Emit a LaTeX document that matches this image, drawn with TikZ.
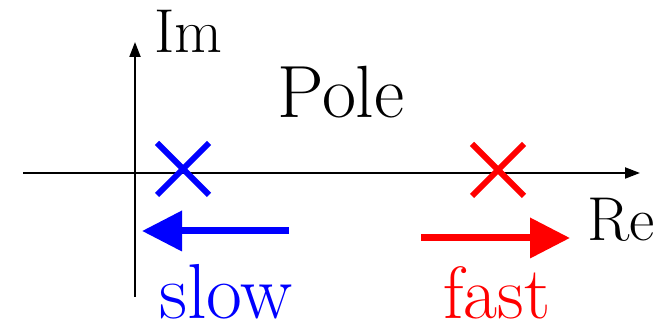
\documentclass[tikz,border=0pt]{standalone}
\usetikzlibrary{arrows.meta,positioning,calc}

\tikzset{
  axis/.style={line width=1pt,-{Triangle[length=7.5pt,width=5.5pt]}},
  polemark/.style={line width=3pt},
  move/.style={line width=3.5pt,-{Triangle[length=20pt,width=19.5pt]}},
  lbl/.style={inner sep=0pt,anchor=base west},
  small/.style={font=\fontsize{31}{31}\selectfont},
  large/.style={font=\fontsize{37}{37}\selectfont}
}

\begin{document}
\begin{tikzpicture}[x=0.5pt,y=0.5pt]
  \useasboundingbox (0,0) rectangle (670,325);
  % axes
  \coordinate (reL) at (23,152);
  \coordinate (reR) at (640,152);
  \coordinate (imB) at (135,28);
  \coordinate (imT) at (135,283);
  \draw[axis] (reL) -- (reR);
  \draw[axis] (imB) -- (imT);
  \node[lbl,small] (im) at (154,272) {Im};
  \node[lbl,small] (re) at (587,84) {Re};
  \node[lbl,large] (pole) at (277,207) {Pole};
  % poles
  \foreach \name/\x/\y/\c in {slowpole/183/156/blue,fastpole/498/155/red} {
    \coordinate (\name) at (\x,\y);
    \draw[polemark,\c] ($(\name)+(-26,-26)$) -- ($(\name)+(26,26)$);
    \draw[polemark,\c] ($(\name)+(-26,26)$) -- ($(\name)+(26,-26)$);
  }
  % direction arrows
  \coordinate (slowA) at (289,94);
  \coordinate (slowB) at (142,94);
  \coordinate (fastA) at (421,87);
  \coordinate (fastB) at (570,87);
  \draw[move,blue] (slowA) -- (slowB);
  \draw[move,red] (fastA) -- (fastB);
  \node[lbl,blue,font=\fontsize{39}{39}\selectfont] (slow) at (159,6) {slow};
  \node[lbl,large,red] (fast) at (443,6) {fast};
\end{tikzpicture}
\end{document}
